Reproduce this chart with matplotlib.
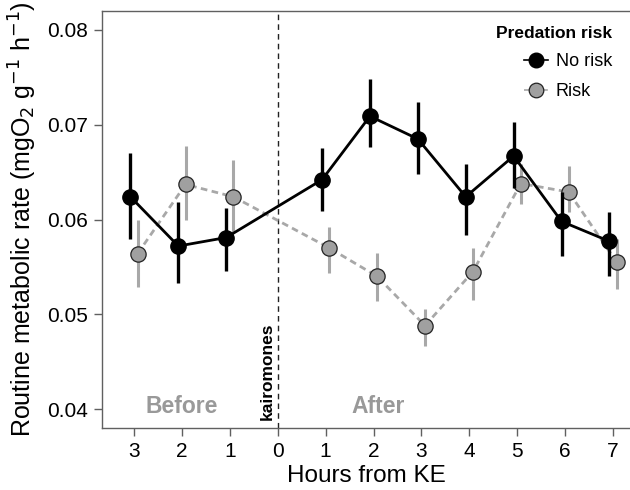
import numpy as np
import matplotlib
matplotlib.use("Agg")
import matplotlib.pyplot as plt
from matplotlib.lines import Line2D

plt.rcParams['font.family'] = ['Liberation Sans', 'DejaVu Sans']

# hours relative to kairomone exposure (negative = before)
hours = [-3, -2, -1, 1, 2, 3, 4, 5, 6, 7]
tick_pos = [-3, -2, -1, 0, 1, 2, 3, 4, 5, 6, 7]
tick_lab = ['3', '2', '1', '0', '1', '2', '3', '4', '5', '6', '7']

norisk_mean = [0.0624, 0.0572, 0.0581, 0.0642, 0.0709, 0.0685, 0.0624, 0.0667, 0.0598, 0.0577]
norisk_lo = [0.0579, 0.0533, 0.0546, 0.0609, 0.0676, 0.0648, 0.0584, 0.0633, 0.0562, 0.0540]
norisk_hi = [0.0670, 0.0618, 0.0612, 0.0675, 0.0748, 0.0724, 0.0659, 0.0703, 0.0629, 0.0608]

risk_mean = [0.0564, 0.0637, 0.0624, 0.0570, 0.0540, 0.0488, 0.0545, 0.0638, 0.0629, 0.0555]
risk_lo = [0.0529, 0.0600, 0.0586, 0.0544, 0.0514, 0.0467, 0.0515, 0.0616, 0.0608, 0.0527]
risk_hi = [0.0600, 0.0678, 0.0663, 0.0592, 0.0565, 0.0506, 0.0570, 0.0659, 0.0656, 0.0579]

dodge = 0.075
grey_line = '#a8a8a8'
grey_fill = '#a0a0a0'

fig = plt.figure(figsize=(6.3, 4.9), dpi=100)
ax = fig.add_axes([0.162, 0.1265, 0.838, 0.851])

x = np.array(hours, dtype=float)
ax.axvline(0, color='#222222', lw=1, ls=(0, (4, 3)), zorder=1)

# risk (grey, dashed)
xr = x + dodge
ax.vlines(xr, risk_lo, risk_hi, color=grey_line, lw=2.2, zorder=2)
ax.plot(xr, risk_mean, color=grey_line, lw=2, ls=(0, (2.4, 1.6)), zorder=3)
ax.plot(xr, risk_mean, 'o', ms=11, mfc=grey_fill, mec='#222222', mew=0.9, ls='none', zorder=4)

# no risk (black)
xn = x - dodge
ax.vlines(xn, norisk_lo, norisk_hi, color='black', lw=2.4, zorder=5)
ax.plot(xn, norisk_mean, color='black', lw=2, zorder=6)
ax.plot(xn, norisk_mean, 'o', ms=11, mfc='black', mec='black', ls='none', zorder=7)

ax.set_xlim(-3.667, 7.354)
ax.set_ylim(0.038, 0.082)
ax.set_xticks(tick_pos)
ax.set_xticklabels(tick_lab)
ax.set_yticks([0.04, 0.05, 0.06, 0.07, 0.08])
ax.set_yticklabels(['0.04', '0.05', '0.06', '0.07', '0.08'])

for s in ['left', 'bottom', 'top']:
    ax.spines[s].set_color('#606060')
    ax.spines[s].set_linewidth(1)
ax.spines['right'].set_visible(False)
ax.tick_params(direction='out', length=6, width=1, color='#606060', labelsize=15, pad=4)

ax.set_xlabel('Hours from KE', fontsize=17.5, labelpad=3)
ax.set_ylabel('Routine metabolic rate (mgO$_2$ g$^{-1}$ h$^{-1}$)', fontsize=18, labelpad=6)

ax.text(-2.0, 0.0391, 'Before', color='#999999', fontsize=16.5, fontweight='bold', ha='center', va='bottom')
ax.text(2.1, 0.0391, 'After', color='#999999', fontsize=16.5, fontweight='bold', ha='center', va='bottom')
ax.text(-0.22, 0.0388, 'kairomones', color='black', fontsize=12.5, fontweight='bold',
        rotation=90, ha='center', va='bottom')

handles = [
    Line2D([], [], color='black', lw=1.2, marker='o', ms=10.5, mfc='black', mec='black'),
    Line2D([], [], color=grey_line, lw=1.2, ls='--', marker='o', ms=10.5, mfc=grey_fill, mec='#222222', mew=0.9),
]
leg = ax.legend(handles, ['No risk', 'Risk'], title='Predation risk', loc='upper right',
                frameon=False, fontsize=13, title_fontproperties={'weight': 'bold', 'size': 12.5},
                handlelength=1.3, handletextpad=0.45, labelspacing=0.7, borderaxespad=0.3,
                alignment='right', bbox_to_anchor=(0.99, 0.995))

fig.savefig('out.png', dpi=100)
